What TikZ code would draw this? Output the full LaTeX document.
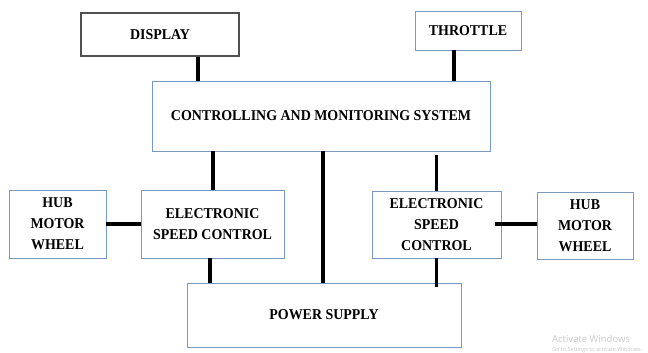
\documentclass[tikz,border=0pt]{standalone}
\usepackage{fontspec}
\setmainfont{Liberation Serif}[FakeStretch=0.93]
\newfontfamily\wmfont{Open Sans}
\definecolor{boxblue}{RGB}{122,152,192}
\definecolor{boxgray}{RGB}{80,80,80}
\definecolor{wmgray}{RGB}{200,200,200}
\begin{document}
\begin{tikzpicture}[x=1pt,y=-1pt,
  blk/.style={draw=boxblue, line width=0.9pt, fill=white, align=center, inner sep=0pt,
    font=\fontsize{15}{21}\selectfont\bfseries},
  conn/.style={line width=3.4pt, black}]
\useasboundingbox (0,0) rectangle (648,353);
\node[blk, draw=boxgray, line width=1.2pt, minimum width=158, minimum height=43] (disp) at (160,34.5) {DISPLAY};
\node[blk, minimum width=106, minimum height=39] (thr) at (468,30.5) {THROTTLE};
\node[blk, minimum width=338, minimum height=70] (ctrl) at (321,116) {CONTROLLING AND MONITORING SYSTEM};
\node[blk, minimum width=97, minimum height=68] (lhub) at (57.5,224) {HUB\\MOTOR\\WHEEL};
\node[blk, minimum width=143, minimum height=68] (lesc) at (212.5,224) {ELECTRONIC\\SPEED CONTROL};
\node[blk, minimum width=129, minimum height=67] (resc) at (436.5,224.5) {ELECTRONIC\\SPEED\\CONTROL};
\node[blk, minimum width=96, minimum height=67] (rhub) at (585,225.5) {HUB\\MOTOR\\WHEEL};
\node[blk, minimum width=274, minimum height=64] (ps) at (324,315) {POWER SUPPLY};
% connectors
\draw[conn] ([xshift=38]disp.south) -- ([xshift=38]disp.south |- ctrl.north);
\draw[conn] ([xshift=-14]thr.south) -- ([xshift=-14]thr.south |- ctrl.north);
\draw[conn] ([xshift=0.5]lesc.north) -- ([xshift=0.5]lesc.north |- ctrl.south);
\draw[conn] ([xshift=-1]ps.north) -- ([xshift=-1]ps.north |- ctrl.south);
\draw[conn] (resc.north) -- ([yshift=-4]resc.north |- ctrl.south);
\draw[conn] (lhub.east) -- (lhub.east -| lesc.west);
\draw[conn] ([xshift=-6,yshift=0.5]resc.east) -- ([yshift=0.5]resc.east -| rhub.west);
\draw[conn] ([xshift=-2.5]lesc.south) -- ([xshift=-2.5]lesc.south |- ps.north);
\draw[conn] (resc.south) -- ([yshift=-4]resc.south |- ps.north);
% watermark
\node[anchor=base west, inner sep=0pt, text=wmgray, font=\wmfont\fontsize{9.5}{11}\selectfont] (wm1) at (552,342) {Activate Windows};
\node[anchor=base west, inner sep=0pt, text=wmgray, font=\wmfont\fontsize{5.5}{7}\selectfont] (wm2) at (552,351) {Go to Settings to activate Windows.};
\end{tikzpicture}
\end{document}
